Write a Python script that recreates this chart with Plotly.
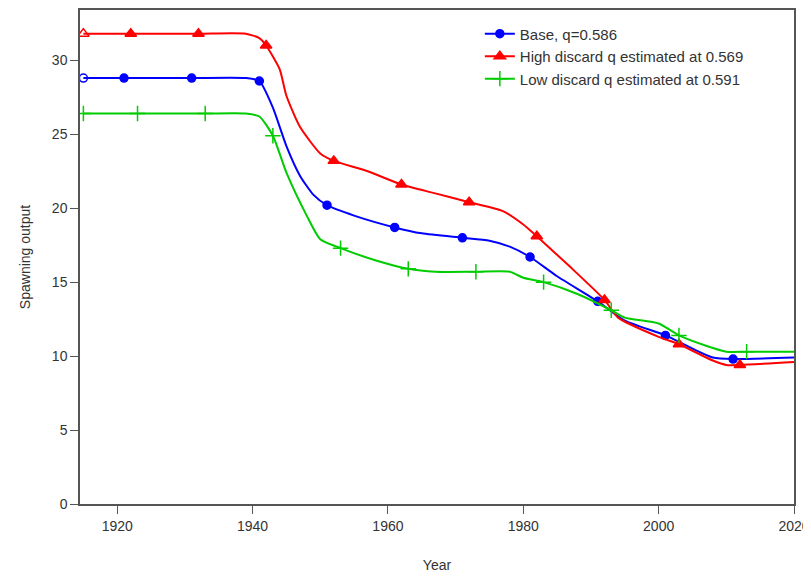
import plotly.graph_objects as go

# year / value pairs
base_years = [1915, 1921, 1931, 1939, 1941, 1943, 1945, 1947, 1949, 1951, 1955, 1961, 1965, 1971, 1975, 1978, 1981, 1985, 1991, 1995, 2001, 2005, 2008, 2011, 2020]
base_vals = [28.8, 28.8, 28.8, 28.8, 28.6, 26.8, 24.2, 22.2, 20.9, 20.2, 19.5, 18.7, 18.3, 18.0, 17.8, 17.4, 16.7, 15.4, 13.7, 12.4, 11.4, 10.5, 9.9, 9.8, 9.9]
base_marks = [1915, 1921, 1931, 1941, 1951, 1961, 1971, 1981, 1991, 2001, 2011]

high_years = [1915, 1922, 1932, 1939, 1941, 1942, 1944, 1945, 1947, 1950, 1952, 1957, 1962, 1967, 1972, 1977, 1980, 1982, 1987, 1992, 1994, 2000, 2003, 2008, 2010, 2012, 2020]
high_vals = [31.8, 31.8, 31.8, 31.8, 31.5, 31.0, 29.4, 27.6, 25.5, 23.7, 23.2, 22.5, 21.6, 21.0, 20.4, 19.8, 18.9, 18.1, 16.0, 13.8, 12.6, 11.3, 10.8, 9.7, 9.4, 9.4, 9.6]
high_marks = [1915, 1922, 1932, 1942, 1952, 1962, 1972, 1982, 1992, 2003, 2012]

low_years = [1915, 1923, 1933, 1939, 1941, 1943, 1945, 1948, 1950, 1953, 1958, 1963, 1967, 1973, 1978, 1980, 1983, 1988, 1993, 1995, 2000, 2003, 2007, 2010, 2013, 2020]
low_vals = [26.4, 26.4, 26.4, 26.4, 26.2, 24.9, 22.4, 19.5, 17.9, 17.3, 16.5, 15.9, 15.7, 15.7, 15.7, 15.3, 15.0, 14.2, 13.1, 12.6, 12.2, 11.4, 10.7, 10.3, 10.3, 10.3]
low_marks = [1915, 1923, 1933, 1943, 1953, 1963, 1973, 1983, 1993, 2003, 2013]

series = [
    ("Base, q=0.586", base_years, base_vals, base_marks, "#0000ff", "circle", 8),
    ("High discard q estimated at 0.569", high_years, high_vals, high_marks, "#ff0000", "triangle-up", 10),
    ("Low discard q estimated at 0.591", low_years, low_vals, low_marks, "#00cc00", "cross-thin", 11),
]

font = "Liberation Sans, Arial"
fig = go.Figure()
for name, yrs, vals, marks, col, sym, size in series:
    lookup = dict(zip(yrs, vals))
    my = [lookup[m] for m in marks]
    open_sym = sym + "-open" if sym != "cross-thin" else sym
    syms = [open_sym] + [sym] * (len(marks) - 1)
    fig.add_trace(go.Scatter(
        x=yrs, y=vals, mode="lines", line=dict(color=col, width=2, shape="spline", smoothing=0.6),
        showlegend=False, hoverinfo="skip"))
    fig.add_trace(go.Scatter(
        x=marks, y=my, mode="markers", name=name, showlegend=False,
        marker=dict(symbol=syms, size=size, color=col, line=dict(color=col, width=1.5))))
    # legend entry with line + marker
    fig.add_trace(go.Scatter(
        x=[None], y=[None], mode="lines+markers", name=name,
        line=dict(color=col, width=2), marker=dict(symbol=sym, size=size, color=col, line=dict(color=col, width=1.5))))

axis_common = dict(showline=True, linecolor="#555", linewidth=1.5, mirror=True, ticks="outside",
                   ticklen=8, tickcolor="#555", showgrid=False, zeroline=False,
                   tickfont=dict(family=font, size=14, color="#333"))
fig.update_xaxes(range=[1914.5, 2020], tickvals=[1920, 1940, 1960, 1980, 2000, 2020],
                 title=dict(text="Year", font=dict(family=font, size=14, color="#333"), standoff=28),
                 **axis_common)
fig.update_yaxes(range=[0, 33.4], tickvals=[0, 5, 10, 15, 20, 25, 30],
                 title=dict(text="Spawning output", font=dict(family=font, size=14, color="#333"), standoff=18),
                 **axis_common)
fig.update_layout(
    width=811, height=588, plot_bgcolor="white", paper_bgcolor="white",
    margin=dict(l=72, r=25, t=2, b=92, autoexpand=False),
    legend=dict(x=0.56, y=0.985, xanchor="left", yanchor="top", bgcolor="rgba(0,0,0,0)",
                font=dict(family=font, size=15, color="#333"), tracegroupgap=0),
)
fig.write_html("out.html")
